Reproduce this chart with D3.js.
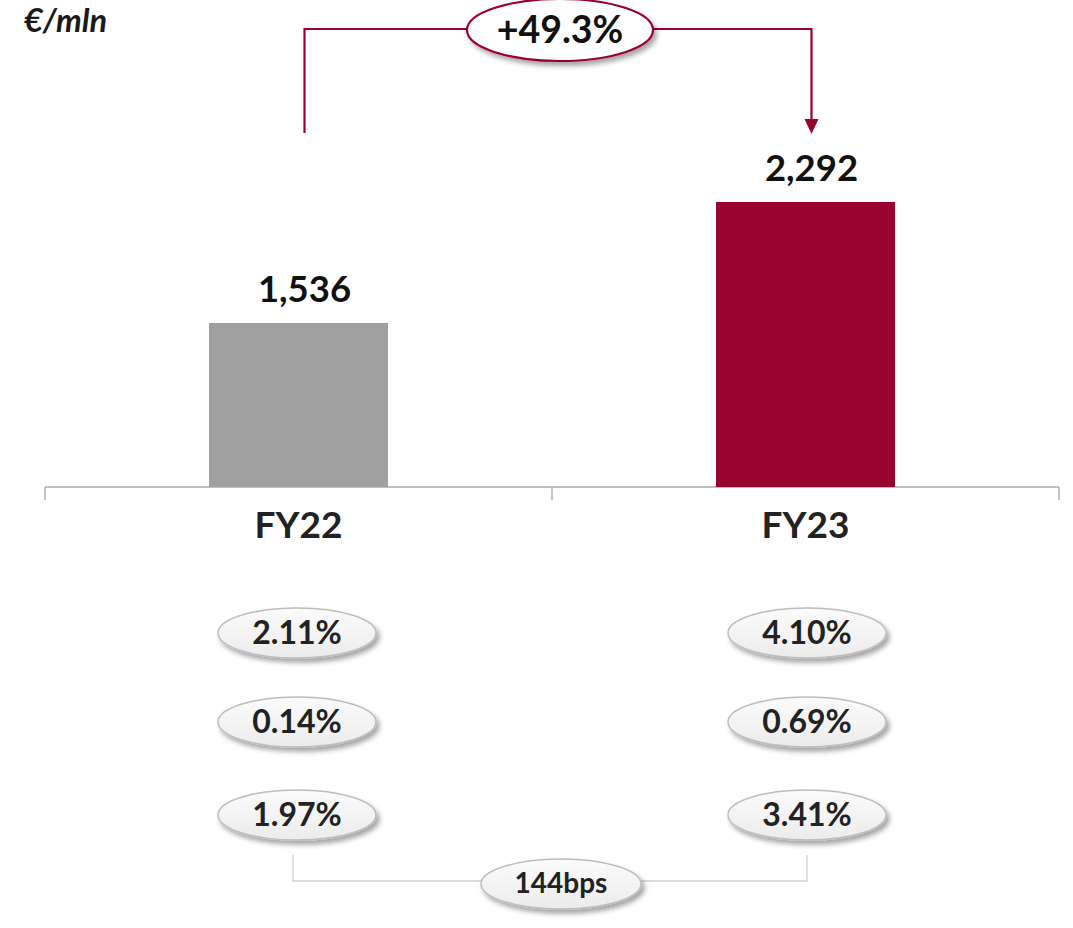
<!DOCTYPE html>
<html>
<head>
<meta charset="utf-8">
<script src="https://cdn.jsdelivr.net/npm/d3@7"></script>
<style>
html,body{margin:0;padding:0;background:#fff;}
svg{display:block;font-family:Lato,"Open Sans",sans-serif;}
</style>
</head>
<body>
<svg id="chart" width="1073" height="928"></svg>
<script>
const categories = ["FY22", "FY23"];
const values = [1536, 2292];
const valueLabels = ["1,536", "2,292"];
const barColors = ["#a0a0a0", "#990330"];
const growthLabel = "+49.3%";
const ratioRow1 = ["2.11%", "4.10%"];
const ratioRow2 = ["0.14%", "0.69%"];
const ratioRow3 = ["1.97%", "3.41%"];
const deltaLabel = "144bps";
const unitLabel = "€/mln";

const svg = d3.select("#chart");
const defs = svg.append("defs");
const f = defs.append("filter").attr("id","shadow").attr("x","-20%").attr("y","-30%").attr("width","150%").attr("height","180%");
f.append("feDropShadow").attr("dx",3).attr("dy",4).attr("stdDeviation",2.5).attr("flood-color","#000").attr("flood-opacity",0.35);
const g = defs.append("linearGradient").attr("id","pill").attr("x1",0).attr("y1",0).attr("x2",0).attr("y2",1);
g.append("stop").attr("offset","0%").attr("stop-color","#fbfbfb");
g.append("stop").attr("offset","100%").attr("stop-color","#ececec");

const x = d3.scaleBand().domain(categories).range([45, 1059]).padding(0);
const y = d3.scaleLinear().domain([511, 2292]).range([487, 202]);
const barW = 179;

// axis
const axis = svg.append("g").attr("transform","translate(0,487)")
  .call(d3.axisBottom(x).tickSize(0).tickFormat(""));
axis.select(".domain").attr("stroke","#a8a8a8").attr("stroke-width",1.3).attr("d","M45,0H1059");
[45, 552, 1059].forEach(tx => {
  axis.append("line").attr("x1",tx).attr("x2",tx).attr("y1",0).attr("y2",13).attr("stroke","#a8a8a8").attr("stroke-width",1.3);
});

// bars
svg.selectAll("rect.bar").data(categories).join("rect")
  .attr("class","bar")
  .attr("x", d => x(d) + x.bandwidth()/2 - barW/2)
  .attr("width", barW)
  .attr("y", (d,i) => y(values[i]))
  .attr("height", (d,i) => y.range()[0] - y(values[i]))
  .attr("fill", (d,i) => barColors[i]);

// value labels
svg.selectAll("text.val").data(categories).join("text")
  .attr("class","val")
  .attr("x", d => x(d) + x.bandwidth()/2 + 6)
  .attr("y", (d,i) => y(values[i]) - 21)
  .attr("text-anchor","middle")
  .attr("font-size",36.5).attr("font-weight",700).attr("fill","#111")
  .text((d,i) => valueLabels[i]);

// category labels
svg.selectAll("text.cat").data(categories).join("text")
  .attr("class","cat")
  .attr("x", d => x(d) + x.bandwidth()/2)
  .attr("y", 538)
  .attr("text-anchor","middle")
  .attr("font-size",37).attr("font-weight",700).attr("fill","#222")
  .text(d => d);

// unit label
svg.append("text").attr("x",24).attr("y",32).attr("font-size",32.5).attr("font-weight",700)
  .attr("font-style","italic").attr("fill","#1a1a1a").text(unitLabel);

// growth arrow
const c1 = x(categories[0]) + x.bandwidth()/2 + 6;
const c2 = x(categories[1]) + x.bandwidth()/2 + 6;
const red = "#990330";
svg.append("path").attr("d",`M${c1},133V29H${c2}V120`).attr("fill","none").attr("stroke",red).attr("stroke-width",2.2);
svg.append("path").attr("d",`M${c2-7},119L${c2+7},119L${c2},134Z`).attr("fill",red);
svg.append("ellipse").attr("cx",560).attr("cy",30).attr("rx",93).attr("ry",31)
  .attr("fill","#fff").attr("stroke",red).attr("stroke-width",2.2).attr("filter","url(#shadow)");
svg.append("text").attr("x",560).attr("y",43).attr("text-anchor","middle")
  .attr("font-size",37.5).attr("font-weight",700).attr("fill","#111").text(growthLabel);

// ratio pills
const rows = [ratioRow1, ratioRow2, ratioRow3];
const rowY = [633, 722, 815];
const pillX = [297, 807];
rows.forEach((row, ri) => {
  row.forEach((lab, ci) => {
    svg.append("ellipse").attr("cx",pillX[ci]).attr("cy",rowY[ri]).attr("rx",79).attr("ry",25)
      .attr("fill","url(#pill)").attr("stroke","#bdbdbd").attr("stroke-width",1.5).attr("filter","url(#shadow)");
    svg.append("text").attr("x",pillX[ci]).attr("y",rowY[ri]+11).attr("text-anchor","middle")
      .attr("font-size",32).attr("font-weight",700).attr("fill","#222").text(lab);
  });
});

// bottom connector
svg.append("path").attr("d",`M${pillX[0]-4},855V881H${pillX[1]}V855`).attr("fill","none").attr("stroke","#d0d0d0").attr("stroke-width",1.3);
svg.append("ellipse").attr("cx",561).attr("cy",884).attr("rx",80).attr("ry",25)
  .attr("fill","url(#pill)").attr("stroke","#bdbdbd").attr("stroke-width",1.5).attr("filter","url(#shadow)");
svg.append("text").attr("x",561).attr("y",893).attr("text-anchor","middle")
  .attr("font-size",28).attr("font-weight",700).attr("fill","#222").text(deltaLabel);
</script>
</body>
</html>
